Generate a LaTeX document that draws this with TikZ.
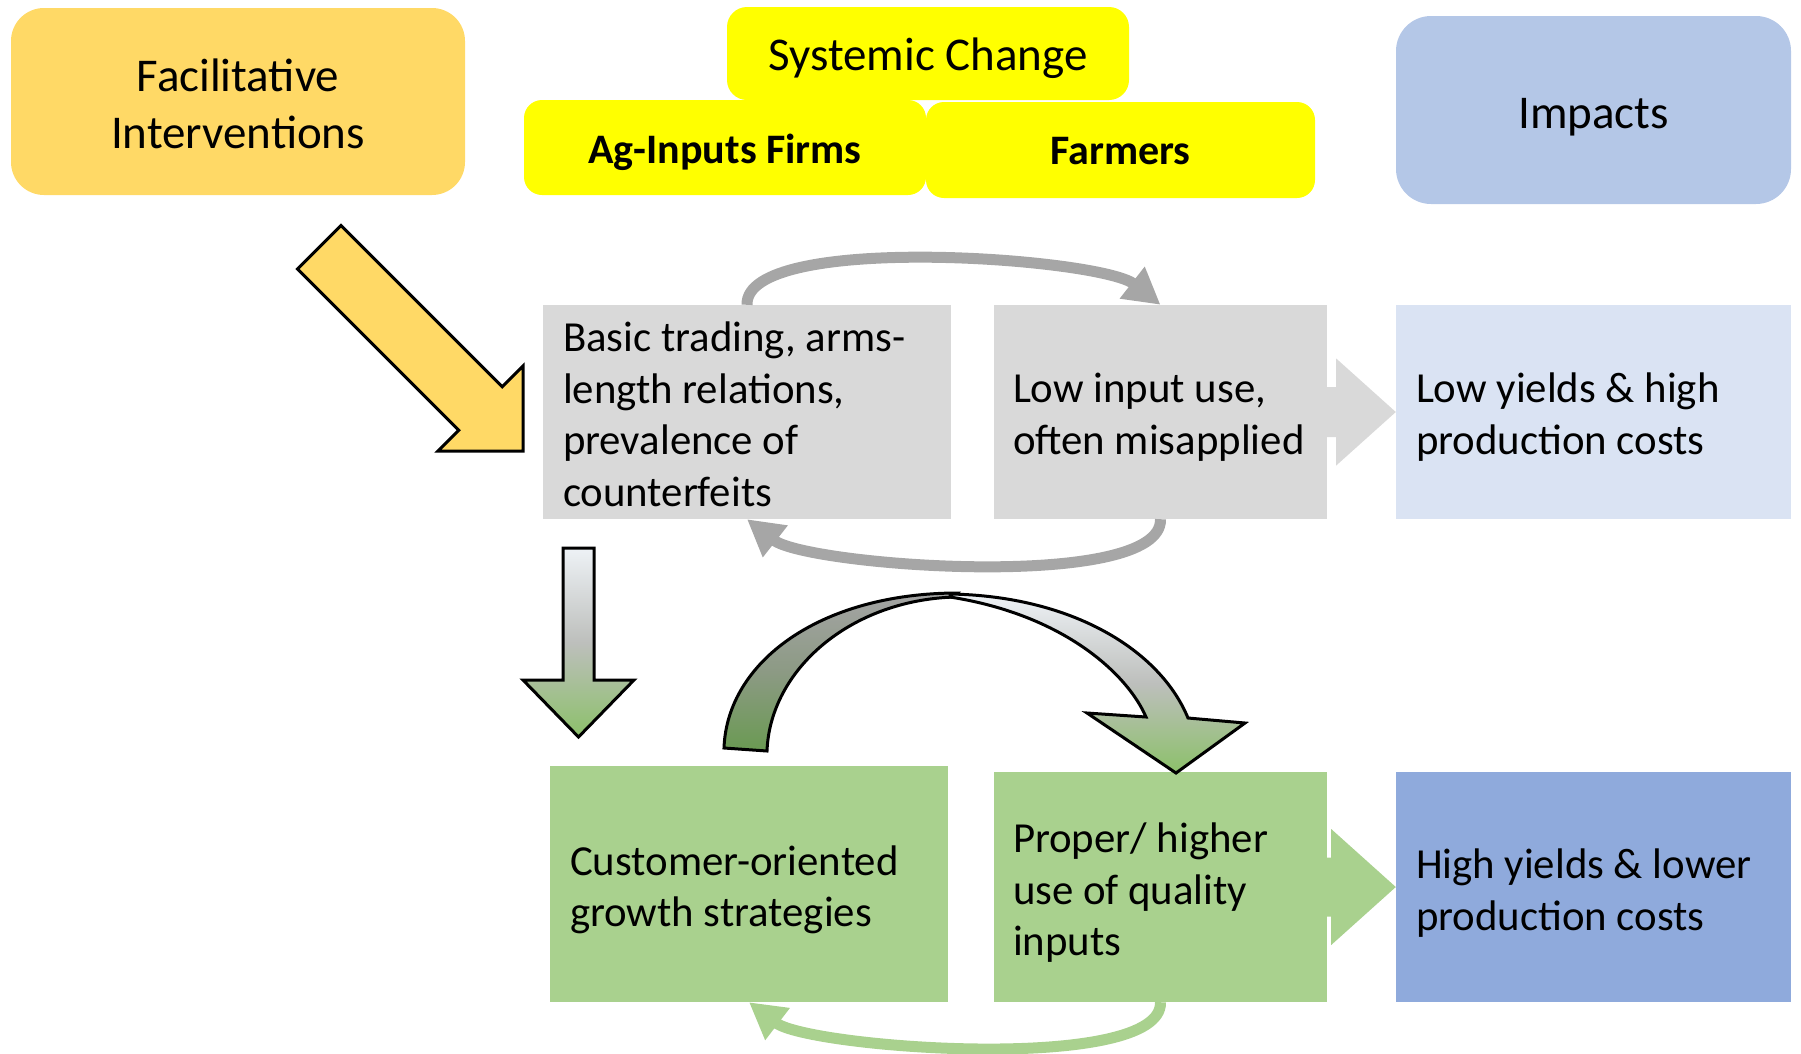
\documentclass[tikz,border=0pt]{standalone}
\usepackage{fontspec}
\setmainfont{Carlito}
\usetikzlibrary{arrows.meta,calc}

\definecolor{gold}{HTML}{FFD966}
\definecolor{yel}{HTML}{FFFF00}
\definecolor{impblue}{HTML}{B4C7E7}
\definecolor{lgrey}{HTML}{D9D9D9}
\definecolor{paleblue}{HTML}{DAE3F3}
\definecolor{lgreen}{HTML}{A9D18E}
\definecolor{midblue}{HTML}{8FAADC}
\definecolor{loopgrey}{HTML}{A6A6A6}
\definecolor{fadetop}{HTML}{EEF2F6}
\definecolor{fademid}{HTML}{BDBFBC}
\definecolor{fadebot}{HTML}{8CC06A}
\definecolor{backtop}{HTML}{A4A4A4}
\definecolor{backmid}{HTML}{8C9A84}
\definecolor{backbot}{HTML}{6A9A52}

\begin{document}
\begin{tikzpicture}[x=1pt,y=-1pt,
  hdr/.style={inner sep=0pt, font=\fontsize{47}{57}\selectfont, align=center},
  subhdr/.style={inner sep=0pt, font=\fontsize{42}{51}\selectfont\bfseries, align=center},
  panel/.style={inner sep=0pt, draw=none},
  txt/.style={inner sep=0pt, font=\fontsize{42.8}{51.5}\selectfont, align=left, anchor=west},
  loopline/.style={line width=11pt, -{Triangle[length=36pt,width=38pt]}},
  outlined/.style={draw=black, line width=3pt, line join=miter}
]
\useasboundingbox (0,0) rectangle (1801,1053);

% column headers
\node[panel, fill=gold, rounded corners=33pt, minimum width=454pt, minimum height=187pt]
  (fac) at (238,101.5) {};
\node[panel, fill=yel, rounded corners=20pt, minimum width=402pt, minimum height=93pt]
  (sys) at (928,53.5) {};
\node[panel, fill=yel, rounded corners=18pt, minimum width=402pt, minimum height=95pt]
  (agi) at (725,147.5) {};
\node[panel, fill=yel, rounded corners=18pt, minimum width=389pt, minimum height=96pt]
  (far) at (1120.5,150) {};
\node[panel, fill=impblue, rounded corners=35pt, minimum width=395pt, minimum height=188pt]
  (imp) at (1593.5,110) {};
\node[hdr] (fact) at ($(fac)+(0,2)$) {Facilitative\\Interventions};
\node[hdr] (syst) at ($(sys)+(0,5)$) {Systemic Change};
\node[subhdr] (agit) at ($(agi)+(0,5)$) {Ag-Inputs Firms};
\node[subhdr] (fart) at ($(far)+(0,1.5)$) {Farmers};
\node[hdr] (impt) at ($(imp)+(0,7)$) {Impacts};

% current situation row
\node[panel, fill=lgrey, minimum width=408pt, minimum height=214pt] (b1) at (747,412) {};
\node[panel, fill=lgrey, minimum width=333pt, minimum height=214pt] (b2) at (1160.5,412) {};
\node[panel, fill=paleblue, minimum width=395pt, minimum height=214pt] (lb) at (1593.5,412) {};
\node[txt] (b1t) at ($(b1.west)+(20,2.5)$) {Basic trading, arms-\\length relations,\\prevalence of\\counterfeits};
\node[txt] (b2t) at ($(b2.west)+(19,5)$) {Low input use,\\often misapplied};
\node[txt] (lbt) at ($(lb.west)+(20,5)$) {Low yields \& high\\production costs};

% target situation row
\node[panel, fill=lgreen, minimum width=398pt, minimum height=236pt] (g1) at (749,884) {};
\node[panel, fill=lgreen, minimum width=333pt, minimum height=230pt] (g2) at (1160.5,887) {};
\node[panel, fill=midblue, minimum width=395pt, minimum height=230pt] (hb) at (1593.5,887) {};
\node[txt] (g1t) at ($(g1.west)+(20,6)$) {Customer-oriented\\growth strategies};
\node[txt] (g2t) at ($(g2.west)+(19,6)$) {Proper/ higher\\use of quality\\inputs};
\node[txt] (hbt) at ($(hb.west)+(20,6)$) {High yields \& lower\\production costs};

% block arrows towards the impacts
\fill[lgrey] ($(b2.east)+(-1,-25)$) -- ++(10,0) -- ++(0,-28.5) -- (lb.west)
  -- ($(b2.east)+(9,53.5)$) -- ++(0,-28.5) -- ($(b2.east)+(-1,25)$) -- cycle;
\fill[lgreen] ($(g2.east)+(-1,-29.5)$) -- ++(5,0) -- ++(0,-28.5) -- (hb.west)
  -- ($(g2.east)+(4,58)$) -- ++(0,-28.5) -- ($(g2.east)+(-1,29.5)$) -- cycle;

% feedback loops between firms and farmers
\draw[loopline, loopgrey] (b1.north) .. controls +(-2,-73) and +(-60,-47) .. (b2.north);
\draw[loopline, loopgrey] (b2.south) .. controls +(2,73) and +(60,47) .. (b1.south);
\draw[loopline, lgreen] (g2.south) .. controls +(2,72) and +(60,46) .. (g1.south);

% facilitation arrow
\draw[outlined, fill=gold] (341,225.5) -- (502.25,386.75) -- (523,366) -- (523,451)
  -- (438,451) -- (458.75,430.25) -- (297.5,269) -- cycle;

% transition arrow
\draw[outlined, top color=fadetop, bottom color=fadebot, middle color=fademid]
  (563,548) -- (594,548) -- (594,680) -- (634,680) -- (578.5,737) -- (523,680)
  -- (563,680) -- cycle;

% curved arrow: back half of the ribbon
\draw[outlined, top color=backtop, bottom color=backbot, middle color=backmid]
  (958,593) .. controls (820,593) and (727,662) .. (724,748) -- (767,751)
  .. controls (770,670) and (850,600) .. (955,597) -- cycle;
% curved arrow: front half with head
\draw[outlined, top color=fadetop, bottom color=fadebot, middle color=fademid]
  (950,594) .. controls (1072,596) and (1160,650) .. (1188,718)
  -- (1245,723) -- (1176,773) -- (1087,713) -- (1146,717)
  .. controls (1128,675) and (1065,615) .. (950,597) -- cycle;
\end{tikzpicture}
\end{document}
